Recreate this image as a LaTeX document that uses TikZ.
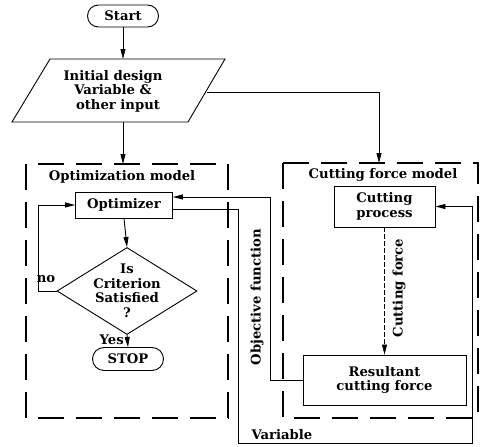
\documentclass[tikz,border=0pt]{standalone}
\usepackage{fontspec}
\setmainfont{DejaVu Serif}
\usetikzlibrary{arrows.meta,shapes.geometric,shapes.misc}
\begin{document}
\begin{tikzpicture}[x=1pt,y=-1pt,
  font=\fontsize{13.2}{14.5}\selectfont\bfseries,
  arr/.style={-{Triangle[length=10pt,width=5pt]}, line width=0.9pt},
  plain/.style={line width=0.9pt},
  box/.style={draw, line width=0.9pt, inner sep=2pt},
  term/.style={draw, rounded rectangle, line width=0.9pt, minimum width=75pt, minimum height=22pt, inner sep=2pt},
  modelbox/.style={draw, line width=1.1pt, dash pattern=on 26pt off 12pt},
  dec/.style={draw, diamond, aspect=1.6, line width=0.9pt, minimum width=140pt, minimum height=87pt, inner sep=-9pt, align=center}
]
\useasboundingbox (0,0) rectangle (480,447);

% terminals
\node[term] (start) at (123,16) {Start};
\node[term, minimum height=23pt] (stop) at (128,359) {STOP};

% input parallelogram
\draw[plain] (50,59) -- (225,59) -- (188,122) -- (12,122) -- cycle;
\node[align=center] (input) at (113,91) {Initial design\\Variable \&\\\hspace*{10pt}other input};
\coordinate (inT) at (123,59);
\coordinate (inB) at (123,122);
\coordinate (inR) at (207,92);

% model boxes
\draw[modelbox] (26,164) rectangle (228,418);
\draw[modelbox] (283,163) rectangle (478,418);
\coordinate (optTop) at (123,164);
\coordinate (cfTop) at (379,163);
\node (optlabel) at (122,177) {Optimization model};
\node (cflabel) at (383,175) {Cutting force model};

% process boxes
\node[box, minimum width=97pt, minimum height=26pt] (optimizer) at (124,205) {Optimizer};
\node[dec] (crit) at (127,291) {Is\\Criterion\\Satisfied\\?};
\node[box, minimum width=101pt, minimum height=41pt, align=center] (cutting) at (384.5,206.5) {Cutting\\process};
\node[box, minimum width=163pt, minimum height=50pt, align=center] (result) at (384.5,380) {Resultant\\cutting force};

% connectors
\draw[arr] (start.south) -- (inT);
\draw[arr] (inB) -- (optTop);
\draw[arr] (inR) -| (cfTop);
\draw[arr] (optimizer.south) -- (crit.north);
\draw[arr] (crit.west) -- (38,291) |- (optimizer.west);
\node (no) at (46,279) {no};
\draw[arr] (crit.south) -- (stop.north);
\node[anchor=east, inner sep=1pt] (yes) at (125,340) {Yes};
\draw[-{Triangle[length=10pt,width=5pt]}, line width=0.6pt, dash pattern=on 5pt off 2pt] (cutting.south) -- (result.north);
\node[rotate=90] (cflbl) at (399,288) {Cutting force};
\draw[arr] (result.west) -| (270,197) -- ([yshift=8pt]optimizer.east);
\node[rotate=90] (objlbl) at (257,297) {Objective function};
\draw[arr] ([yshift=-4pt]optimizer.east) -| (238,443) -| ([xshift=37pt]cutting.east) -- (cutting.east);
\node[anchor=west] (varlbl) at (248,435) {Variable};
\end{tikzpicture}
\end{document}
